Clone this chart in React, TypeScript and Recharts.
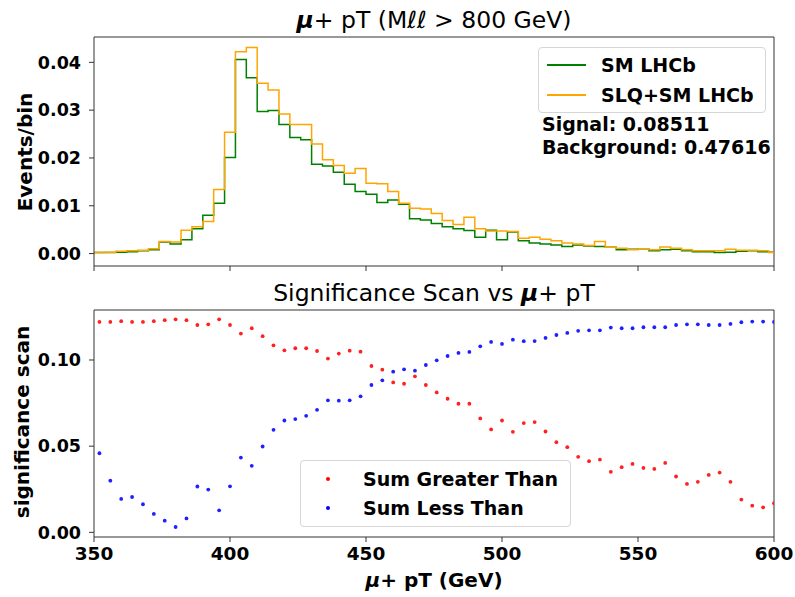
import React from "react";
import {
  LineChart,
  Line,
  ScatterChart,
  Scatter,
  XAxis,
  YAxis,
  ReferenceLine,
  Legend,
} from "recharts";

const FONT = '"DejaVu Sans", sans-serif';

// histogram: 4 GeV bins starting at 350
const binStart = 350;
const binWidth = 4;

const smLHCb = [
  0.0002, 0.0002, 0.0003, 0.0004, 0.0006, 0.0008, 0.0024, 0.002, 0.0029, 0.0052,
  0.008, 0.0105, 0.0201, 0.0406, 0.0368, 0.0297, 0.0299, 0.027, 0.0243, 0.0238,
  0.0187, 0.0183, 0.017, 0.0145, 0.013, 0.0124, 0.0107, 0.0112, 0.0103, 0.0073,
  0.007, 0.0063, 0.0056, 0.0052, 0.0048, 0.0034, 0.0049, 0.0029, 0.0045, 0.0027,
  0.0022, 0.002, 0.0018, 0.0015, 0.0018, 0.0016, 0.0015, 0.0013, 0.0008, 0.0009,
  0.001, 0.0006, 0.0008, 0.0009, 0.0006, 0.0004, 0.0004, 0.0002, 0.0003, 0.0005,
  0.0006, 0.0004, 0.0003,
];

const slqSmLHCb = [
  0.0002, 0.0003, 0.0005, 0.0006, 0.0007, 0.001, 0.0025, 0.0024, 0.0049, 0.0056,
  0.0067, 0.0134, 0.0254, 0.0422, 0.0431, 0.0356, 0.0342, 0.0292, 0.027, 0.027,
  0.0229, 0.0196, 0.0184, 0.0168, 0.0178, 0.0147, 0.0146, 0.013, 0.0105, 0.0095,
  0.0093, 0.0084, 0.0069, 0.0061, 0.0076, 0.0052, 0.0047, 0.0047, 0.0046, 0.0032,
  0.0034, 0.003, 0.0027, 0.0022, 0.002, 0.0017, 0.0025, 0.0013, 0.0011, 0.0008,
  0.001, 0.0008, 0.0014, 0.0011, 0.0008, 0.0006, 0.0006, 0.0006, 0.0009, 0.0007,
  0.0007, 0.0006, 0.0002,
];

// significance scan, one point per bin centre
const sumGreater = [
  0.1221, 0.1221, 0.1225, 0.1221, 0.1221, 0.1225, 0.1231, 0.1236, 0.1231, 0.1203,
  0.1207, 0.1236, 0.1203, 0.1153, 0.1184, 0.1138, 0.1085, 0.1056, 0.1068, 0.1068,
  0.1052, 0.1008, 0.1037, 0.1054, 0.1048, 0.0965, 0.0944, 0.087, 0.0862, 0.0905,
  0.0855, 0.0812, 0.0775, 0.0746, 0.0746, 0.0661, 0.0597, 0.0649, 0.0583, 0.0634,
  0.064, 0.0585, 0.0523, 0.0494, 0.0438, 0.0413, 0.0422, 0.0351, 0.0378, 0.0397,
  0.0374, 0.0368, 0.0403, 0.0324, 0.0281, 0.0293, 0.0333, 0.0347, 0.0293, 0.019,
  0.0155, 0.0145, 0.0169,
];

const sumLess = [
  0.0459, 0.03, 0.0194, 0.0205, 0.0163, 0.0107, 0.0068, 0.0031, 0.0081, 0.0266,
  0.0248, 0.0128, 0.0267, 0.0434, 0.0386, 0.0498, 0.0595, 0.0649, 0.0657, 0.0676,
  0.0711, 0.0766, 0.0764, 0.0766, 0.0789, 0.0855, 0.0882, 0.0932, 0.0946, 0.0938,
  0.0971, 0.0998, 0.1023, 0.1041, 0.1047, 0.1079, 0.1105, 0.1093, 0.1118, 0.1109,
  0.111, 0.1128, 0.1145, 0.1157, 0.1169, 0.1172, 0.1172, 0.1188, 0.1184, 0.1184,
  0.119, 0.119, 0.119, 0.1203, 0.1207, 0.1207, 0.1203, 0.1203, 0.1209, 0.1219,
  0.1223, 0.1223, 0.1221,
];

const xTicks = [350, 400, 450, 500, 550, 600];
const topYTicks = [0, 0.01, 0.02, 0.03, 0.04];
const botYTicks = [0, 0.05, 0.1];
const topDomain: [number, number] = [-0.0026, 0.0453];
const botDomain: [number, number] = [-0.0027, 0.129];

const GREEN = "#008000";
const ORANGE = "#ffa500";
const SPINE = "#333333";

const histData = smLHCb.map((v, i) => ({
  x: binStart + i * binWidth,
  sm: v,
  slq: slqSmLHCb[i],
}));
// close the last step at the right edge
histData.push({ x: 600, sm: smLHCb[smLHCb.length - 1], slq: slqSmLHCb[slqSmLHCb.length - 1] });

const greaterData = sumGreater.map((v, i) => ({ x: binStart + binWidth / 2 + i * binWidth, y: v }));
const lessData = sumLess.map((v, i) => ({ x: binStart + binWidth / 2 + i * binWidth, y: v }));

const legendBox: React.CSSProperties = {
  position: "relative",
  background: "rgba(255,255,255,0.85)",
  border: "1px solid #d6d6d6",
  borderRadius: 4,
  fontFamily: FONT,
  fontWeight: "bold",
  fontSize: 19,
  color: "#000",
  boxSizing: "border-box",
};

const TopLegend = () => (
  <div style={{ ...legendBox, width: 228, height: 66 }}>
    {[
      { name: "SM LHCb", color: GREEN, cy: 17 },
      { name: "SLQ+SM LHCb", color: ORANGE, cy: 47 },
    ].map((e) => (
      <div key={e.name}>
        <div
          style={{ position: "absolute", left: 8, top: e.cy - 1, width: 39, height: 1.5, background: e.color }}
        />
        <div style={{ position: "absolute", left: 62, top: e.cy - 12, lineHeight: "24px", whiteSpace: "nowrap" }}>
          {e.name}
        </div>
      </div>
    ))}
  </div>
);

const BottomLegend = () => (
  <div style={{ ...legendBox, width: 271, height: 67 }}>
    {[
      { name: "Sum Greater Than", color: "#ff0000", cy: 18 },
      { name: "Sum Less Than", color: "#0000ff", cy: 47 },
    ].map((e) => (
      <div key={e.name}>
        <div
          style={{
            position: "absolute",
            left: 25,
            top: e.cy - 2,
            width: 4,
            height: 4,
            borderRadius: 2,
            background: e.color,
          }}
        />
        <div style={{ position: "absolute", left: 62, top: e.cy - 12, lineHeight: "24px", whiteSpace: "nowrap" }}>
          {e.name}
        </div>
      </div>
    ))}
  </div>
);

const yTickStyle = { fontFamily: FONT, fontWeight: "bold", fontSize: 17.5, fill: "#000" };
const xTickStyle = { fontFamily: FONT, fontWeight: "bold", fontSize: 18.5, fill: "#000" };

export default function App() {
  return (
    <div style={{ position: "absolute", left: 0, top: 0, width: 795, height: 597, background: "#fff" }}>
      <div style={{ position: "absolute", left: 0, top: 0 }}>
        <LineChart width={795} height={280} data={histData} margin={{ top: 37, right: 21, left: 0, bottom: 0 }}>
          <XAxis
            dataKey="x"
            type="number"
            domain={[350, 600]}
            ticks={xTicks}
            allowDataOverflow
            height={14}
            tickSize={5}
            tickFormatter={() => ""}
            stroke={SPINE}
          />
          <YAxis
            type="number"
            domain={topDomain}
            ticks={topYTicks}
            allowDataOverflow
            width={94}
            tickSize={5}
            tickMargin={8}
            tickFormatter={(v: number) => v.toFixed(2)}
            tick={yTickStyle}
            stroke={SPINE}
          />
          <ReferenceLine y={topDomain[1]} stroke={SPINE} />
          <ReferenceLine x={600} stroke={SPINE} />
          <Line
            type="stepAfter"
            dataKey="sm"
            name="SM LHCb"
            stroke={GREEN}
            strokeWidth={1.5}
            dot={false}
            isAnimationActive={false}
          />
          <Line
            type="stepAfter"
            dataKey="slq"
            name="SLQ+SM LHCb"
            stroke={ORANGE}
            strokeWidth={1.5}
            dot={false}
            isAnimationActive={false}
          />
          <Legend
            layout="vertical"
            align="center"
            verticalAlign="middle"
            content={() => <TopLegend />}
            wrapperStyle={{ left: 538, top: 47, width: 228 }}
          />
        </LineChart>
      </div>

      <div style={{ position: "absolute", left: 0, top: 270 }}>
        <ScatterChart width={795} height={327} margin={{ top: 40, right: 21, left: 0, bottom: 0 }}>
          <XAxis
            dataKey="x"
            type="number"
            domain={[350, 600]}
            ticks={xTicks}
            allowDataOverflow
            height={60}
            tickSize={5}
            tickMargin={5}
            tick={xTickStyle}
            stroke={SPINE}
          />
          <YAxis
            dataKey="y"
            type="number"
            domain={botDomain}
            ticks={botYTicks}
            allowDataOverflow
            width={94}
            tickSize={5}
            tickMargin={8}
            tickFormatter={(v: number) => v.toFixed(2)}
            tick={yTickStyle}
            stroke={SPINE}
          />
          <ReferenceLine y={botDomain[1]} stroke={SPINE} />
          <ReferenceLine x={600} stroke={SPINE} />
          <Scatter
            name="Sum Greater Than"
            data={greaterData}
            fill="#ff0000"
            isAnimationActive={false}
            shape={(p: any) => <circle cx={p.cx} cy={p.cy} r={1.9} fill="#ff2020" />}
          />
          <Scatter
            name="Sum Less Than"
            data={lessData}
            fill="#0000ff"
            isAnimationActive={false}
            shape={(p: any) => <circle cx={p.cx} cy={p.cy} r={1.9} fill="#2020ff" />}
          />
          <Legend
            layout="vertical"
            align="center"
            verticalAlign="middle"
            content={() => <BottomLegend />}
            wrapperStyle={{ left: 300, top: 190, width: 271 }}
          />
        </ScatterChart>
      </div>

      <svg
        width={795}
        height={597}
        style={{ position: "absolute", left: 0, top: 0, pointerEvents: "none" }}
        fontFamily={FONT}
      >
        <text x={434} y={28} textAnchor="middle" fontSize={23.5} fill="#000">
          <tspan fontWeight="bold" fontStyle="italic">μ</tspan>
          <tspan>+ pT (M</tspan>
          <tspan fontStyle="italic">ℓℓ</tspan>
          <tspan> &gt; 800 GeV)</tspan>
        </text>
        <text x={434} y={301} textAnchor="middle" fontSize={23.5} fill="#000">
          <tspan>Significance Scan vs </tspan>
          <tspan fontWeight="bold" fontStyle="italic">μ</tspan>
          <tspan>+ pT</tspan>
        </text>
        <text x={542} y={131} fontSize={19} fontWeight="bold" fill="#000">
          Signal: 0.08511
        </text>
        <text x={542} y={154} fontSize={19} fontWeight="bold" fill="#000">
          Background: 0.47616
        </text>
        <text
          x={32}
          y={152}
          fontSize={20}
          fontWeight="bold"
          textAnchor="middle"
          transform="rotate(-90 32 152)"
          fill="#000"
        >
          Events/bin
        </text>
        <text
          x={29}
          y={422}
          fontSize={20}
          fontWeight="bold"
          textAnchor="middle"
          transform="rotate(-90 29 422)"
          fill="#000"
        >
          significance scan
        </text>
        <text x={434} y={587} fontSize={20} fontWeight="bold" textAnchor="middle" fill="#000">
          <tspan fontStyle="italic">μ</tspan>
          <tspan>+ pT (GeV)</tspan>
        </text>
      </svg>
    </div>
  );
}
